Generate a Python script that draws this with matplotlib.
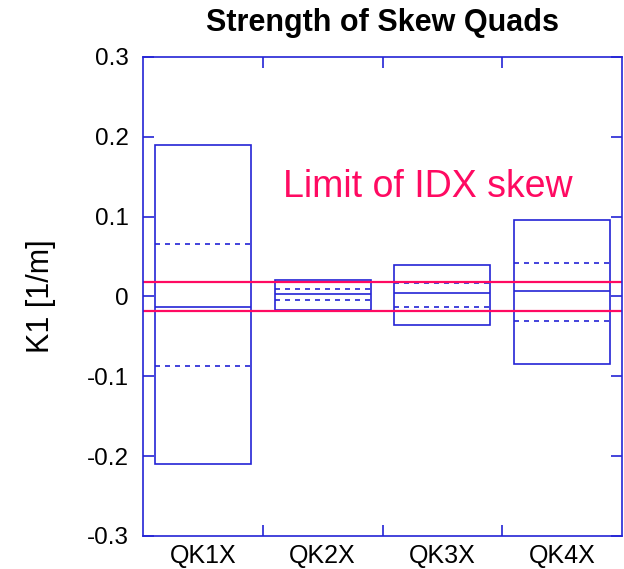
import matplotlib
matplotlib.use("Agg")
import matplotlib.pyplot as plt
import numpy as np

plt.rcParams["font.family"] = ["Liberation Sans", "DejaVu Sans"]

magnets = ["QK1X", "QK2X", "QK3X", "QK4X"]
k1_max = [0.190, 0.020, 0.039, 0.096]
k1_min = [-0.210, -0.017, -0.036, -0.084]
k1_mean = [-0.013, 0.003, 0.004, 0.007]
k1_plus_sigma = [0.066, 0.009, 0.017, 0.042]
k1_minus_sigma = [-0.087, -0.004, -0.013, -0.031]
idx_limit = 0.018

BLUE = "#2424d6"
RED = "#ff0a62"

fig = plt.figure(figsize=(6.24, 5.69), dpi=100)
ax = fig.add_axes([0.229, 0.058, 0.768, 0.842])

x = np.arange(1, len(magnets) + 1)
w = 0.8
lo = np.array(k1_min)
hi = np.array(k1_max)
ax.bar(x, hi - lo, bottom=lo, width=w, fill=False, edgecolor=BLUE, linewidth=1.2)
ax.hlines(k1_mean, x - w / 2, x + w / 2, color=BLUE, linewidth=1.2)
ax.hlines(k1_plus_sigma, x - w / 2, x + w / 2, color=BLUE, linewidth=1.2,
          linestyles=(0, (3, 3)))
ax.hlines(k1_minus_sigma, x - w / 2, x + w / 2, color=BLUE, linewidth=1.2,
          linestyles=(0, (3, 3)))

for lim in (idx_limit, -idx_limit):
    ax.axhline(lim, color=RED, linewidth=1.6)
ax.text(2.88, 0.137, "Limit of IDX skew", color=RED, fontsize=27,
        ha="center", va="center")

ax.set_xlim(0.5, 4.5)
ax.set_ylim(-0.3, 0.3)
ax.set_yticks(np.arange(-0.3, 0.31, 0.1))
ax.set_yticklabels(["-0.3", "-0.2", "-0.1", "0", "0.1", "0.2", "0.3"])
ax.set_xticks(x)
ax.set_xticklabels(magnets)
ax.set_xticks([1.5, 2.5, 3.5], minor=True)
ax.tick_params(axis="x", which="major", length=0, labelsize=18, pad=6)
ax.tick_params(axis="x", which="minor", direction="in", length=8, color=BLUE,
               top=True, width=1.2)
ax.tick_params(axis="y", direction="in", length=8, color=BLUE, right=True,
               labelsize=17.5, width=1.2, pad=10)
for s in ax.spines.values():
    s.set_color(BLUE)
    s.set_linewidth(1.2)

ax.set_ylabel("K1 [1/m]", fontsize=22, labelpad=22)
ax.set_title("Strength of Skew Quads", fontsize=22, fontweight="bold", pad=19)

fig.savefig("out.png", dpi=100)
